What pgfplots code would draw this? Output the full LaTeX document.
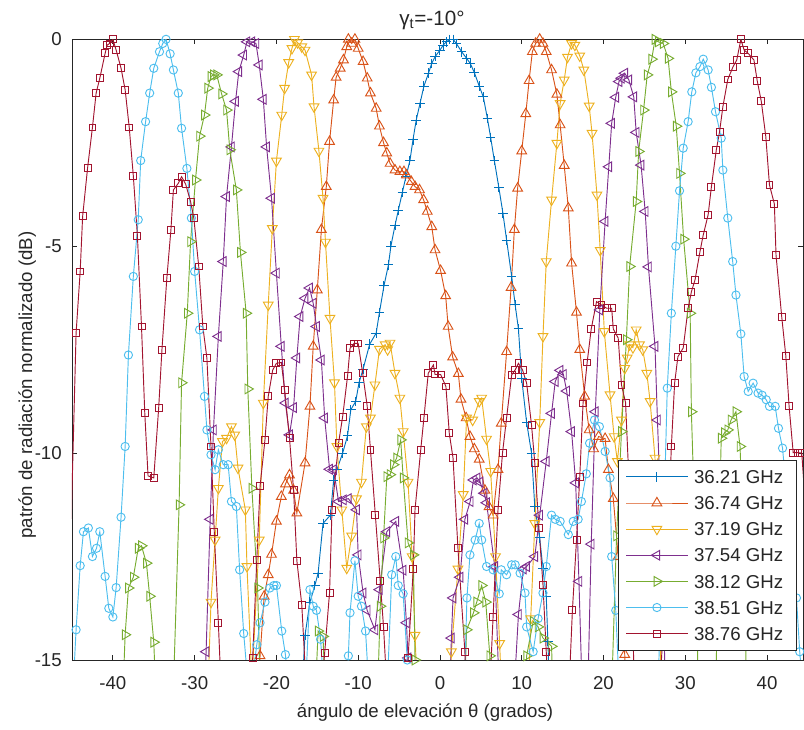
\documentclass[border=0pt]{standalone}
\usepackage{fontspec}
\setmainfont{Liberation Sans}
\usepackage{pgfplots}
\pgfplotsset{compat=1.18}
\definecolor{c1}{rgb}{0,0.447,0.741}
\definecolor{c2}{rgb}{0.85,0.325,0.098}
\definecolor{c3}{rgb}{0.929,0.694,0.125}
\definecolor{c4}{rgb}{0.494,0.184,0.556}
\definecolor{c5}{rgb}{0.466,0.674,0.188}
\definecolor{c6}{rgb}{0.301,0.745,0.933}
\definecolor{c7}{rgb}{0.635,0.078,0.184}
\definecolor{axc}{rgb}{0.15,0.15,0.15}
\begin{document}
\fontsize{14}{16.8}\selectfont
\begin{tikzpicture}
\begin{axis}[
 at={(0,0)}, anchor=south west,
 scale only axis, width=548.25pt, height=465.5pt,
 xmin=-45, xmax=44.4, ymin=-15, ymax=0,
 xtick={-40,-30,-20,-10,0,10,20,30,40}, ytick={-15,-10,-5,0},
 xticklabels={-40,-30,-20,-10,0,10,20,30,40},
 yticklabels={-15,-10,-5,0},
 tick align=inside, major tick length=3.75pt,
 axis line style={axc, line width=0.6pt},
 every tick/.style={axc, line width=0.6pt},
 tick label style={text=axc},
 xticklabel style={anchor=base, yshift=-22.5pt},
 yticklabel style={anchor=east, inner sep=0pt, xshift=-7.5pt},
 xlabel={ángulo de elevación θ (grados)},
 ylabel={patrón de radiación normalizado (dB)},
 title={\fontsize{15.5}{18}\selectfont γ\textsubscript{t}=-10°},
 every axis x label/.style={at={(axis description cs:0.483,-0.0934)}, anchor=base, text=axc},
 every axis y label/.style={at={(axis description cs:-0.0547,0.443)}, rotate=90, anchor=base, text=axc},
 every axis title/.style={at={(axis description cs:0.4925,1)}, yshift=10.5pt, anchor=base, text=axc},
 legend style={at={(axis description cs:1,0)}, anchor=south east, xshift=-4.5pt, yshift=6.75pt,
   draw=axc, line width=0.6pt, fill=white, text=axc, inner ysep=2.9pt, inner xsep=5.5pt,
   nodes={text height=11.5pt, text depth=1.5pt, inner ysep=3.3pt, inner xsep=4.5pt}},
 legend cell align=left,
 legend image code/.code={\draw[mark repeat=2,mark phase=2] plot coordinates {(0pt,0pt) (23pt,0pt) (46pt,0pt)};},
 every axis plot/.append style={line width=0.7pt},
]
\addplot[c1, mark=+, mark size=3.6pt] coordinates {
(-17.5,-18) (-16.5,-14.4) (-15.9,-13.6) (-15.3,-13.2) (-14.9,-12.9) (-14.3,-11.7) (-13.4,-11.5) (-13.0,-10.65) (-12.6,-10.4) (-11.9,-10.0) (-11.3,-9.58) (-10.9,-8.95) (-10.3,-8.75) (-9.9,-8.3) (-9.4,-7.97) (-8.6,-7.37) (-7.8,-7.1) (-7.4,-6.6) (-6.85,-5.96) (-6.3,-5.45) (-6.0,-5.0) (-5.5,-4.5) (-5.1,-4.14) (-4.6,-3.7) (-4.16,-3.32) (-3.67,-2.93) (-3.3,-2.43) (-2.9,-1.95) (-2.44,-1.55) (-1.96,-1.13) (-1.4,-0.82) (-1.0,-0.58) (-0.6,-0.42) (0,-0.26) (0.4,-0.14) (0.8,-0.06) (1.2,0) (1.6,0) (2.0,-0.1) (2.65,-0.3) (3.26,-0.46) (3.7,-0.58) (4.2,-0.8) (4.8,-1.13) (5.3,-1.39) (5.8,-1.91) (6.2,-2.37) (6.65,-2.93) (7.2,-3.58) (7.7,-4.2) (8.15,-4.85) (8.77,-5.73) (9.2,-6.42) (9.6,-7.0) (10.0,-8.2) (10.6,-9.26) (11.2,-10.0) (11.6,-11.3) (12.2,-12.05) (12.6,-12.8) (13.0,-13.46) (13.2,-14.55) (13.8,-18)
};
\addlegendentry{36.21 GHz}
\addplot[c2, mark=triangle, mark size=4.2pt] coordinates {
(-22.5,-17) (-22.0,-14.9) (-21.5,-13.46) (-21.0,-12.94) (-20.6,-12.45) (-20.0,-11.65) (-19.4,-11.05) (-18.9,-10.75) (-18.4,-10.53) (-17.9,-10.9) (-17.5,-11.45) (-16.5,-10.24) (-15.9,-8.87) (-15.5,-7.42) (-15.0,-6.06) (-14.5,-4.6) (-13.9,-3.56) (-13.5,-2.47) (-13.0,-1.47) (-12.7,-0.92) (-12.2,-0.7) (-11.8,-0.5) (-11.4,-0.18) (-11.2,0) (-10.8,-0.1) (-10.4,0) (-10.0,-0.22) (-9.4,-0.54) (-8.9,-0.94) (-8.5,-1.3) (-7.8,-1.67) (-7.4,-2.1) (-6.9,-2.5) (-6.5,-2.75) (-6.1,-3.0) (-5.5,-3.16) (-4.9,-3.2) (-4.4,-3.2) (-4.1,-3.28) (-3.5,-3.44) (-3.05,-3.56) (-2.5,-3.64) (-2.0,-3.88) (-1.55,-4.16) (-1.0,-4.53) (-0.6,-5.09) (0.08,-5.59) (0.7,-6.2) (1.0,-6.94) (1.55,-7.68) (2.25,-8.08) (2.57,-8.7) (3.2,-9.15) (3.67,-9.6) (4.2,-9.9) (4.8,-10.15) (5.5,-10.9) (6.0,-11.3) (6.5,-11.5) (7.1,-10.4) (7.5,-9.28) (8.15,-7.55) (8.7,-6.0) (9.1,-4.6) (9.5,-3.6) (10.0,-2.7) (10.5,-1.8) (10.9,-1.0) (11.3,-0.3) (11.7,-0.1) (12.2,0) (12.6,-0.1) (13.0,-0.3) (13.65,-0.74) (14.3,-1.33) (14.7,-2.07) (15.2,-3.05) (15.7,-4.08) (16.1,-5.41) (16.7,-6.6) (17.1,-7.5) (17.7,-8.63) (18.25,-9.44) (18.8,-9.9) (19.4,-9.6) (20.2,-9.65) (20.6,-10.4) (21.2,-11.1) (21.8,-12.5) (22.6,-14.87) (23.0,-17)
};
\addlegendentry{36.74 GHz}
\addplot[c3, mark=triangle, mark size=4.2pt, mark options={rotate=180}] coordinates {
(-28.6,-17) (-28.0,-13.6) (-27.5,-12.1) (-27.1,-10.85) (-26.6,-9.72) (-26.1,-9.64) (-25.5,-9.36) (-25.1,-9.56) (-24.7,-10.36) (-23.8,-11.37) (-23.6,-12.74) (-23.0,-15.5) (-22.1,-12.1) (-21.6,-8.79) (-21.0,-6.42) (-20.5,-4.57) (-20.0,-2.94) (-19.35,-1.83) (-19.0,-1.18) (-18.5,-0.56) (-18.1,-0.22) (-17.8,0) (-17.4,-0.08) (-16.9,-0.18) (-16.5,-0.26) (-15.7,-0.86) (-15.4,-1.63) (-14.8,-2.7) (-14.3,-3.84) (-14.0,-4.9) (-13.45,-6.74) (-12.9,-8.3) (-12.6,-9.84) (-12.0,-11.37) (-11.4,-12.78) (-10.8,-12.0) (-10.2,-11.1) (-9.6,-10.7) (-9.0,-9.36) (-8.5,-9.15) (-7.95,-8.35) (-7.4,-7.49) (-6.7,-7.38) (-6.4,-7.5) (-6.1,-7.34) (-5.5,-8.07) (-4.9,-8.67) (-4.5,-9.48) (-3.9,-10.7) (-3.4,-12.5) (-3.05,-14.4) (-2.5,-17) (0.9,-17) (1.4,-14.8) (2.2,-12.8) (2.85,-11.0) (3.26,-9.15) (4.0,-9.2) (4.8,-8.75) (5.1,-8.67) (5.7,-9.66) (6.2,-10.44) (6.8,-12.5) (7.3,-14.6) (7.8,-17) (10.6,-17) (11.1,-14.0) (11.6,-11.7) (12.2,-9.26) (12.6,-7.18) (13.0,-5.37) (13.65,-3.88) (14.3,-2.51) (14.7,-1.55) (15.2,-0.98) (15.6,-0.43) (16.1,-0.1) (16.5,-0.14) (17.1,-0.4) (17.6,-0.74) (18.25,-1.61) (18.6,-2.27) (19.2,-3.76) (19.6,-5.1) (20.1,-7.06) (20.8,-8.59) (21.3,-9.6) (21.7,-10.2) (22.2,-9.2) (22.6,-7.95) (22.9,-7.7) (23.2,-7.38) (23.6,-7.45) (24.0,-7.02) (24.4,-7.38) (24.8,-7.5) (25.3,-8.07) (25.7,-8.75) (26.3,-10.12) (26.8,-13) (27.2,-17)
};
\addlegendentry{37.19 GHz}
\addplot[c4, mark=triangle, mark size=4.2pt, mark options={rotate=90}] coordinates {
(-29.0,-17) (-28.6,-14.8) (-28.1,-11.6) (-27.7,-9.44) (-27.1,-7.18) (-26.5,-5.37) (-26.1,-3.8) (-25.5,-2.6) (-25.0,-1.5) (-24.6,-0.78) (-24.0,-0.38) (-23.6,-0.06) (-23.0,-0.06) (-22.5,-0.1) (-22.1,-0.62) (-21.6,-1.45) (-21.2,-2.6) (-20.6,-3.84) (-20.0,-5.65) (-19.4,-7.42) (-18.9,-8.79) (-18.4,-9.56) (-17.9,-8.9) (-17.5,-7.7) (-17.1,-6.7) (-16.5,-6.26) (-15.95,-6.01) (-15.5,-6.38) (-15.1,-6.94) (-14.5,-7.75) (-14.1,-9.15) (-13.5,-10.39) (-13.0,-10.4) (-12.4,-11.17) (-11.8,-11.13) (-11.2,-11.1) (-10.2,-11.37) (-10.0,-12.46) (-9.4,-13.38) (-8.9,-13.8) (-7.95,-14.27) (-7.4,-13.3) (-6.5,-11.9) (-5.4,-11.65) (-4.5,-12.83) (-4.1,-14.1) (-3.9,-14.95) (-3.4,-17) (1.0,-17) (1.4,-14.47) (1.6,-13.5) (2.45,-13.0) (3.05,-11.6) (3.7,-11.17) (4.1,-10.65) (4.55,-10.6) (4.9,-10.7) (5.4,-10.97) (5.7,-11.2) (6.7,-12.74) (7.2,-15.5) (9.0,-16) (9.6,-13.9) (10.2,-12.8) (10.6,-12.74) (11.6,-12.5) (12.2,-11.5) (13.0,-10.2) (13.65,-9.04) (14.1,-8.27) (14.7,-8.0) (15.1,-8.1) (15.5,-8.5) (16.1,-9.48) (16.6,-10.72) (17.0,-13.1) (17.5,-16.5) (18.0,-16.5) (18.5,-12.2) (19.0,-9.0) (19.55,-6.54) (20.2,-4.4) (20.65,-3.08) (21.0,-2.03) (21.5,-1.4) (21.9,-1.02) (22.2,-0.94) (22.6,-0.82) (23.1,-0.98) (23.7,-1.39) (24.0,-2.25) (24.6,-3.04) (25.1,-4.16) (25.5,-5.5) (26.3,-7.42) (26.6,-9.2) (27.2,-12.5) (27.6,-16)
};
\addlegendentry{37.54 GHz}
\addplot[c5, mark=triangle, mark size=4.2pt, mark options={rotate=-90}] coordinates {
(-39.0,-17) (-38.5,-14.39) (-38.1,-13.26) (-37.5,-13.0) (-36.9,-12.3) (-36.5,-12.24) (-35.9,-12.66) (-35.5,-13.46) (-35.0,-14.57) (-34.5,-17) (-32.8,-17) (-31.9,-11.25) (-31.6,-8.3) (-30.9,-6.62) (-30.5,-4.89) (-29.9,-3.4) (-29.4,-2.34) (-28.8,-1.83) (-28.4,-1.18) (-28.0,-0.9) (-27.7,-0.86) (-27.3,-0.86) (-26.7,-1.32) (-26.1,-1.71) (-25.7,-2.67) (-24.9,-3.64) (-24.4,-5.15) (-23.7,-6.62) (-23.5,-8.45) (-23.0,-10.85) (-22.3,-13.26) (-21.8,-17) (-15.5,-17) (-14.9,-14.3) (-14.3,-14.43) (-13.8,-17) (-7.8,-17) (-7.3,-13.7) (-6.9,-12.05) (-6.5,-10.57) (-6.1,-10.52) (-5.7,-10.28) (-5.3,-10.12) (-4.8,-9.68) (-4.5,-10.6) (-3.9,-12.17) (-3.26,-12.46) (-3.05,-15) (-2.6,-17) (2.8,-17) (3.26,-14.27) (4.1,-13.86) (4.5,-13.6) (5.1,-13.2) (5.6,-13.6) (6.1,-14.9) (6.5,-17) (10.2,-17) (10.6,-14.9) (11.4,-14.07) (12.0,-14.2) (12.6,-14.47) (13.65,-14.67) (14.0,-17) (20.8,-17) (21.6,-12.0) (22.2,-9.48) (22.8,-7.26) (23.2,-5.49) (24.0,-3.92) (24.3,-2.71) (24.9,-1.71) (25.35,-0.86) (25.9,-0.48) (26.3,0) (26.7,-0.06) (27.3,-0.1) (27.9,-0.46) (28.3,-1.27) (28.9,-2.1) (29.3,-3.24) (29.8,-4.83) (30.6,-6.62) (30.75,-9.0) (31.3,-12.5) (31.7,-17) (33.6,-17) (34.0,-13) (34.4,-9.64) (34.8,-9.51) (35.2,-9.44) (35.6,-9.2) (36.2,-9.0) (36.7,-9.84) (37.2,-12.5) (37.6,-17)
};
\addlegendentry{38.12 GHz}
\addplot[c6, mark=o, mark size=3.1pt] coordinates {
(-45.2,-17) (-44.5,-14.27) (-44.0,-12.72) (-43.6,-11.9) (-43.0,-11.81) (-42.5,-12.5) (-42.0,-12.3) (-41.6,-11.9) (-40.95,-12.98) (-40.5,-13.75) (-40.0,-13.96) (-39.6,-13.25) (-39.0,-11.55) (-38.5,-9.84) (-38.1,-7.63) (-37.5,-5.73) (-36.9,-4.36) (-36.6,-2.93) (-36.0,-1.99) (-35.5,-1.3) (-35.0,-0.7) (-34.3,-0.3) (-33.9,-0.1) (-33.5,0) (-33.0,-0.35) (-32.6,-0.74) (-32.0,-1.3) (-31.6,-2.15) (-30.95,-3.12) (-30.4,-4.32) (-30.0,-5.61) (-29.4,-7.02) (-28.8,-8.63) (-28.5,-9.44) (-28.0,-10.04) (-27.5,-10.4) (-27.1,-9.92) (-26.5,-10.28) (-25.9,-10.28) (-25.5,-11.17) (-24.9,-11.29) (-24.5,-12.82) (-24.0,-14.36) (-23.3,-16) (-22.4,-14.63) (-22.0,-14.1) (-21.4,-13.6) (-20.8,-13.26) (-20.3,-13.2) (-20.0,-13.2) (-19.35,-14.3) (-18.9,-14.87) (-18.4,-16) (-16.5,-16) (-15.9,-13.3) (-15.5,-13.7) (-15.1,-13.8) (-14.6,-14.5) (-14.1,-16) (-11.6,-16) (-11.2,-14.9) (-11.0,-13.86) (-10.4,-12.6) (-10.0,-13.46) (-9.6,-13.7) (-9.1,-14.3) (-8.6,-16) (-6.5,-16) (-5.9,-12.94) (-5.4,-12.5) (-5.1,-13.2) (-4.5,-13.4) (-4.0,-15) (-3.6,-17) (2.8,-17) (3.3,-13.5) (3.67,-12.46) (4.3,-12.1) (4.8,-11.7) (5.1,-12.1) (5.7,-12.74) (6.5,-12.82) (7.25,-13.4) (7.5,-12.82) (8.15,-12.94) (8.77,-12.7) (9.2,-12.7) (9.8,-12.9) (10.4,-13.38) (10.6,-14.2) (11.4,-14.8) (12.0,-14.0) (12.6,-13.38) (13.0,-12.74) (13.65,-11.5) (14.1,-11.6) (14.7,-11.65) (15.7,-11.97) (16.3,-11.65) (16.9,-11.6) (17.3,-11.17) (17.9,-10.5) (18.3,-9.76) (18.9,-9.2) (19.5,-9.36) (20.2,-9.96) (20.8,-10.6) (21.0,-12.5) (21.5,-13.8) (22.0,-16) (26.6,-16) (27.4,-11.5) (27.8,-8.43) (28.3,-6.62) (28.85,-5.0) (29.3,-3.66) (29.75,-2.63) (30.35,-1.99) (30.8,-1.27) (31.3,-0.81) (31.8,-0.66) (32.2,-0.48) (32.8,-0.74) (33.2,-1.16) (33.7,-1.75) (34.4,-2.39) (34.6,-3.16) (35.2,-4.32) (35.8,-5.37) (36.2,-6.18) (36.8,-7.12) (37.2,-8.15) (37.7,-8.51) (38.3,-8.31) (38.9,-8.55) (39.4,-8.6) (39.9,-8.71) (40.3,-8.87) (41.0,-8.87) (41.4,-9.4) (41.9,-9.88) (42.4,-11) (43.0,-12.5) (43.6,-13.5) (44.0,-14.8) (44.5,-16)
};
\addlegendentry{38.51 GHz}
\addplot[c7, mark=square, mark size=2.6pt] coordinates {
(-45.6,-15.5) (-44.5,-7.1) (-44.0,-5.61) (-43.7,-4.28) (-43.1,-3.12) (-42.5,-2.13) (-42.05,-1.3) (-41.6,-0.94) (-40.95,-0.34) (-40.7,-0.14) (-40.4,-0.1) (-40.0,0) (-39.6,-0.26) (-39.0,-0.7) (-38.5,-1.22) (-38.0,-2.13) (-37.5,-3.3) (-37.0,-4.75) (-36.5,-6.94) (-36.1,-9.03) (-35.7,-10.55) (-35.0,-10.6) (-34.4,-8.91) (-34.0,-7.5) (-33.4,-5.77) (-32.9,-4.6) (-32.6,-3.64) (-32.0,-3.48) (-31.6,-3.32) (-31.1,-3.5) (-30.5,-3.92) (-30.1,-4.32) (-29.5,-5.49) (-29.0,-6.94) (-28.5,-7.71) (-28.0,-9.84) (-27.6,-11.9) (-27.1,-14.1) (-26.7,-16) (-23.4,-16.5) (-22.9,-14.95) (-22.4,-12.58) (-22.0,-10.8) (-21.4,-9.68) (-21.0,-8.63) (-20.45,-7.99) (-20.0,-7.83) (-19.4,-7.81) (-19.0,-8.47) (-18.4,-9.64) (-17.9,-10.9) (-17.5,-12.6) (-16.9,-13.66) (-16.4,-15.5) (-15.0,-17) (-14.1,-14.83) (-13.5,-13.37) (-13.2,-11.37) (-12.4,-9.76) (-11.9,-9.12) (-11.3,-8.14) (-11.0,-7.47) (-10.5,-7.35) (-10.0,-7.35) (-9.45,-8.07) (-8.9,-8.86) (-8.5,-9.92) (-7.9,-11.5) (-7.3,-13.1) (-6.9,-14.2) (-6.4,-16) (-4.5,-17) (-3.9,-14.95) (-3.26,-12.8) (-3.05,-11.37) (-2.35,-9.92) (-1.96,-9.15) (-1.43,-8.07) (-0.8,-7.87) (-0.6,-8.1) (0.08,-8.1) (0.73,-8.39) (1.14,-9.52) (1.6,-10.12) (2.2,-12.3) (3.05,-14.8) (3.5,-17) (5.8,-17) (6.5,-13.95) (7.1,-11.37) (7.65,-10.0) (8.15,-9.15) (8.77,-8.11) (9.2,-7.99) (9.6,-7.83) (10.1,-7.99) (10.6,-8.31) (11.2,-9.32) (11.6,-10.24) (12.1,-11.8) (12.6,-13.18) (13.0,-14.8) (13.5,-17) (15.5,-17) (16.2,-13.8) (16.7,-12.1) (17.1,-10.57) (17.5,-8.8) (18.0,-7.81) (18.5,-7.0) (19.15,-6.34) (19.75,-6.42) (20.4,-6.5) (21.0,-6.5) (21.2,-7.0) (21.8,-7.22) (22.2,-8.35) (22.7,-8.78) (23.3,-11.5) (23.8,-16) (26.8,-16) (27.8,-12.5) (28.3,-9.84) (28.7,-8.31) (29.1,-7.67) (29.75,-7.46) (30.35,-6.5) (30.75,-6.1) (31.2,-5.81) (31.8,-5.13) (32.2,-4.73) (32.8,-4.24) (33.2,-3.56) (33.8,-2.67) (34.2,-2.23) (34.6,-1.63) (35.2,-0.97) (35.85,-0.66) (36.3,-0.5) (36.8,0) (37.2,-0.26) (37.7,-0.34) (38.4,-0.5) (38.8,-1.0) (39.3,-1.5) (39.85,-2.35) (40.3,-3.52) (40.9,-3.98) (41.1,-5.21) (41.8,-6.71) (42.3,-7.65) (42.7,-8.87) (43.2,-9.99) (43.8,-9.99) (44.25,-10.0) (44.6,-11) (45.0,-13)
};
\addlegendentry{38.76 GHz}
\end{axis}
\pgfresetboundingbox
\useasboundingbox (-54pt,-52.5pt) rectangle (549pt,495pt);
\end{tikzpicture}
\end{document}
